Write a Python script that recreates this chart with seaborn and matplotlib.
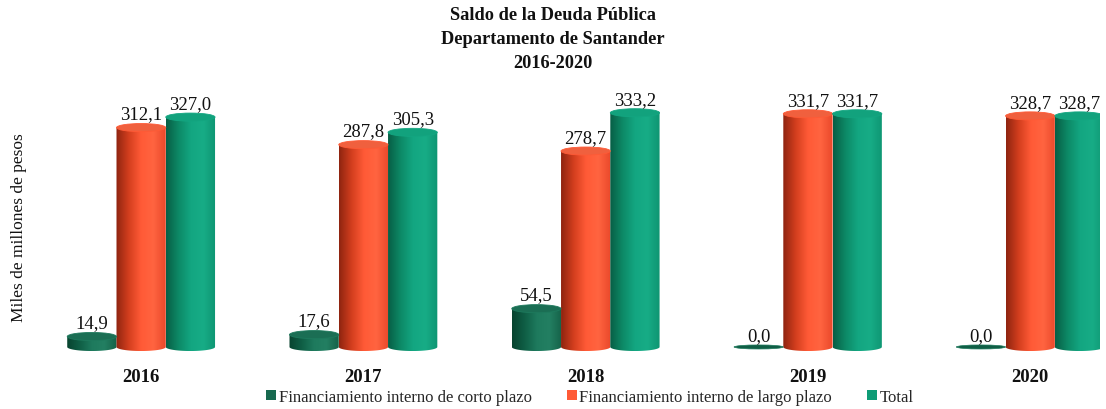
import numpy as np
import pandas as pd
import matplotlib
matplotlib.use("Agg")
import matplotlib.pyplot as plt
import seaborn as sns
from matplotlib.patches import Ellipse, Rectangle, PathPatch
from matplotlib.path import Path
from matplotlib.colors import LinearSegmentedColormap

# ---- data (miles de millones de pesos) ----
years = ["2016", "2017", "2018", "2019", "2020"]
series = ["Financiamiento interno de corto plazo",
          "Financiamiento interno de largo plazo",
          "Total"]
corto_plazo = [14.9, 17.6, 54.5, 0.0, 0.0]
largo_plazo = [312.1, 287.8, 278.7, 331.7, 328.7]
total = [327.0, 305.3, 333.2, 331.7, 328.7]
title_lines = ["Saldo de la Deuda Pública", "Departamento de Santander", "2016-2020"]

df = pd.DataFrame({
    "anio": years * 3,
    "serie": [series[0]] * 5 + [series[1]] * 5 + [series[2]] * 5,
    "valor": corto_plazo + largo_plazo + total,
})

legend_colors = ["#17694F", "#FF5A36", "#0E9C76"]
# shading across each cylinder (left -> right)
shades = [
    ["#08432F", "#0F5E45", "#1E7A5D", "#237F62", "#156248"],
    ["#8E2410", "#D23E1E", "#FF5A36", "#FF6440", "#E9482A"],
    ["#075E45", "#0D8966", "#13A681", "#17AC86", "#0E9572"],
]
cap_colors = ["#1B6E54", "#F0603E", "#12A27D"]

sns.set_theme(style="white")
plt.rcParams["font.family"] = ["Liberation Serif", "DejaVu Serif"]

fig = plt.figure(figsize=(11.06, 4.10), dpi=100)
ax = fig.add_axes([30 / 1106, 56.4 / 410, 1070 / 1106, 260.1 / 410])

sns.barplot(data=df, x="anio", y="valor", hue="serie", hue_order=series,
            palette=legend_colors, width=0.665, gap=0, ax=ax,
            legend=False, errorbar=None)

ax.set_xlim(-0.5, 4.314)
ax.set_ylim(-8, 362)
cap_h = 11.5  # ellipse height in data units

for i, cont in enumerate(ax.containers):
    cmap = LinearSegmentedColormap.from_list(f"c{i}", shades[i])
    grad = np.linspace(0, 1, 256).reshape(1, -1)
    for bar in cont:
        x0 = bar.get_x()
        w = bar.get_width()
        h = bar.get_height()
        xc = x0 + w / 2
        bar.set_visible(False)
        if h > 0:
            # body outline: rectangle with elliptic bottom
            t = np.linspace(np.pi, 2 * np.pi, 60)
            bx = xc + (w / 2) * np.cos(t)
            by = (cap_h / 2) * np.sin(t)
            verts = [(x0, h)] + list(zip(bx, by)) + [(x0 + w, h), (x0, h)]
            codes = [Path.MOVETO] + [Path.LINETO] * (len(verts) - 2) + [Path.CLOSEPOLY]
            body = PathPatch(Path(verts, codes), facecolor="none", edgecolor="none")
            ax.add_patch(body)
            im = ax.imshow(grad, cmap=cmap, aspect="auto",
                           extent=(x0, x0 + w, -cap_h / 2, h), zorder=2)
            im.set_clip_path(body)
            ax.add_patch(Ellipse((xc, h), w, cap_h, facecolor=cap_colors[i],
                                 edgecolor=shades[i][2], lw=0.6, zorder=3))
            top = h + cap_h / 2
        else:
            # empty series: flat disc on the baseline
            ax.add_patch(Ellipse((xc, 0), w, cap_h * 0.5, facecolor=shades[i][1],
                                 edgecolor=shades[i][2], lw=0.5, zorder=3))
            top = cap_h * 0.25
        label = f"{h:.1f}".replace(".", ",")
        ax.text(xc, top + 1.5, label, ha="center", va="bottom",
                fontsize=13.5, color="#111111", zorder=4)

ax.set_xlabel("")
ax.set_ylabel("")
ax.set_yticks([])
ax.tick_params(axis="x", length=0, pad=11)
for lab in ax.get_xticklabels():
    lab.set_fontweight("bold")
    lab.set_fontsize(13.5)
    lab.set_color("#111111")
for s in ax.spines.values():
    s.set_visible(False)

for k, line in enumerate(title_lines):
    fig.text(0.5, 1 - (15 + 24 * k) / 410, line, ha="center", va="center",
             fontsize=13.2, fontweight="bold", color="#111111")
fig.text(19 / 1106, 1 - 228 / 410, "Miles de millones de pesos",
         rotation=90, ha="center", va="center", fontsize=12.5, color="#111111")

handles = [Rectangle((0, 0), 1, 1, facecolor=c, edgecolor="none")
           for c in legend_colors]
fig.legend(handles, series, loc="center", bbox_to_anchor=(590 / 1106, 12 / 410),
           ncol=3, frameon=False, fontsize=12, handlelength=0.6,
           handleheight=0.6, handletextpad=0.15, columnspacing=2.1)

fig.savefig("out.png", dpi=100)
